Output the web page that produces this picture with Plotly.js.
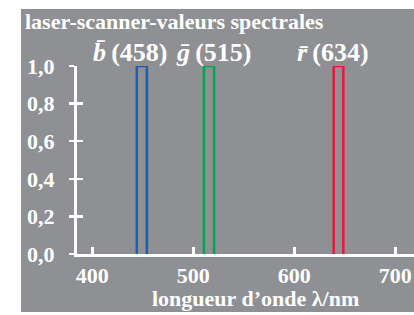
<!DOCTYPE html>
<html>
<head>
<meta charset="utf-8">
<script src="https://cdn.plot.ly/plotly-3.0.1.min.js"></script>
<style>
  html, body { margin: 0; padding: 0; background: #ffffff; width: 414px; height: 315px; overflow: hidden; }
  #chart { position: absolute; left: 21px; top: 9px; width: 393px; height: 303px; }
</style>
</head>
<body>
<div id="chart"></div>
<script>
// Data
const channelNames = ['b', 'g', 'r'];
const labelWavelengths = [458, 515, 634];
const bandStart = [444, 510.5, 639];
const bandEnd = [454, 520.5, 648.5];
const peakValue = [1.0, 1.0, 1.0];
const bandColors = ['#1a5fb4', '#00a550', '#e8173f'];
const xTickValues = [400, 500, 600, 700];
const yTickValues = [0, 0.2, 0.4, 0.6, 0.8, 1.0];

const FONT = 'Liberation Serif, Times New Roman, serif';
const WHITE = '#ffffff';
const GRAY = '#8f9094';

const traces = channelNames.map((name, i) => ({
  type: 'scatter',
  mode: 'lines',
  x: [bandStart[i], bandStart[i], bandEnd[i], bandEnd[i]],
  y: [0, peakValue[i], peakValue[i], 0],
  line: { color: bandColors[i], width: 2.5 },
  cliponaxis: false,
  hoverinfo: 'skip',
  showlegend: false
}));
// invisible trace for the overlay y axis
traces.push({ type: 'scatter', mode: 'lines', x: [400], y: [0], yaxis: 'y2', hoverinfo: 'skip', showlegend: false, line: { width: 0 } });

const labelX = [437.8, 520.5, 638.3];
const annotations = channelNames.map((name, i) => ({
  xref: 'x', yref: 'y', x: labelX[i], y: 1, xanchor: 'center', yanchor: 'bottom', yshift: -3,
  text: '<i>' + name + '\u0304</i>\u2009(' + labelWavelengths[i] + ')',
  showarrow: false,
  font: { family: FONT, size: 26, color: WHITE, weight: 'bold' }
}));
annotations.push({
  xref: 'paper', yref: 'paper', x: 0.531, y: -0.238, xanchor: 'center', yanchor: 'middle',
  text: 'longueur d\u2019onde \u03bb/nm', showarrow: false,
  font: { family: FONT, size: 22, color: WHITE, weight: 'bold' }
});

const layout = {
  width: 393, height: 303,
  margin: { l: 56, r: 0, t: 57, b: 58, pad: 0 },
  paper_bgcolor: GRAY,
  plot_bgcolor: GRAY,
  separators: ',.',
  title: {
    text: 'laser-scanner-valeurs spectrales',
    xref: 'container', yref: 'container', x: 4 / 393, xanchor: 'left', y: 1 - 12 / 303, yanchor: 'middle',
    font: { family: FONT, size: 22, color: WHITE, weight: 'bold' }
  },
  xaxis: {
    range: [384.8, 718.5], showgrid: false, zeroline: false,
    showline: true, linecolor: WHITE, linewidth: 3,
    ticks: 'inside', ticklen: 7, tickwidth: 2.5, tickcolor: WHITE,
    tickvals: xTickValues, tickfont: { family: FONT, size: 22, color: WHITE, weight: 'bold' }
  },
  yaxis: {
    range: [0, 1], showgrid: false, zeroline: false,
    showline: true, linecolor: WHITE, linewidth: 3,
    ticks: 'outside', ticklen: 5, tickwidth: 2.5, tickcolor: WHITE,
    tickvals: yTickValues, tickformat: '.1f',
    tickfont: { family: FONT, size: 22, color: WHITE, weight: 'bold' },
    ticklabelstandoff: 10
  },
  yaxis2: {
    overlaying: 'y', side: 'left', range: [0, 1], showgrid: false, zeroline: false,
    showline: false, ticks: 'inside', ticklen: 6, tickwidth: 2.5, tickcolor: WHITE,
    tickvals: yTickValues, showticklabels: false
  },
  annotations: annotations,
  showlegend: false
};

Plotly.newPlot('chart', traces, layout, { displayModeBar: false, staticPlot: true });
</script>
</body>
</html>
